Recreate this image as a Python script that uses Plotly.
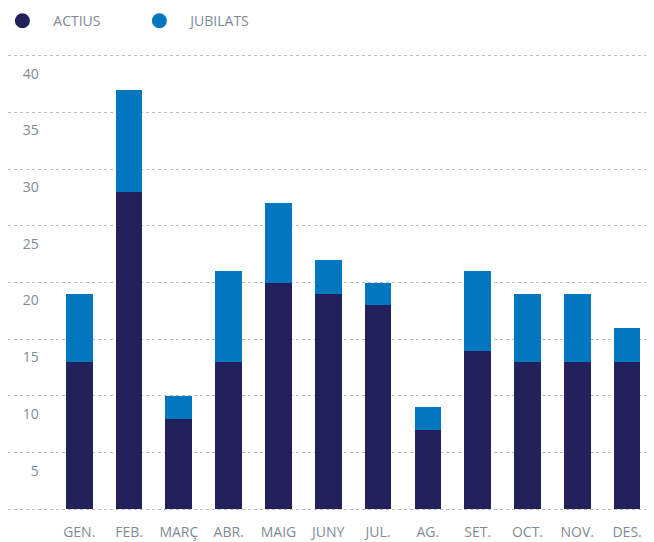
import plotly.graph_objects as go

months = ["GEN.", "FEB.", "MARÇ", "ABR.", "MAIG", "JUNY", "JUL.", "AG.", "SET.", "OCT.", "NOV.", "DES."]
actius = [13, 28, 8, 13, 20, 19, 18, 7, 14, 13, 13, 13]
jubilats = [6, 9, 2, 8, 7, 3, 2, 2, 7, 6, 6, 3]
ytick_vals = [0, 5, 10, 15, 20, 25, 30, 35, 40]
ytick_text = ["", "5", "10", "15", "20", "25", "30", "35", "40"]

C_ACT = "#22215B"
C_JUB = "#0077BE"
TXT = "#7E8B96"
FONT = "Open Sans"

fig = go.Figure()
fig.add_trace(go.Bar(x=months, y=actius, name="ACTIUS", marker_color=C_ACT,
                     marker_line_width=0, showlegend=False))
fig.add_trace(go.Bar(x=months, y=jubilats, name="JUBILATS", marker_color=C_JUB,
                     marker_line_width=0, showlegend=False))
# legend entries drawn as circles
for name, col in [("ACTIUS", C_ACT), ("JUBILATS", C_JUB)]:
    fig.add_trace(go.Scatter(x=[None], y=[None], mode="markers", name="   " + name,
                             marker=dict(symbol="circle", size=15, color=col)))

fig.update_layout(
    width=646, height=534,
    margin=dict(l=0, r=2, t=46, b=31, autoexpand=False),
    barmode="stack",
    bargap=0.464,
    plot_bgcolor="white", paper_bgcolor="white",
    font=dict(family=FONT, size=14, color=TXT),
    legend=dict(orientation="h", xref="paper", yref="paper",
                x=-0.0087, y=1.107, xanchor="left", yanchor="top",
                traceorder="normal",
                entrywidth=92, font=dict(size=14, color=TXT),
                bgcolor="rgba(0,0,0,0)", itemsizing="trace"),
    xaxis=dict(range=[-1.43, 11.5], showgrid=False, zeroline=False,
               showline=False, ticks="", tickfont=dict(size=14, color=TXT),
               ticklabelstandoff=11, automargin=False),
    yaxis=dict(range=[-0.15, 40.15], tickvals=ytick_vals, ticktext=ytick_text,
               showgrid=True, gridcolor="#BDBDBD", griddash="dot", gridwidth=1,
               zeroline=False, showline=False, ticks="",
               anchor="free", position=0.0477, side="left", automargin=False,
               ticklabelshift=18, tickfont=dict(size=14, color=TXT)),
)

fig.write_html("out.html")
